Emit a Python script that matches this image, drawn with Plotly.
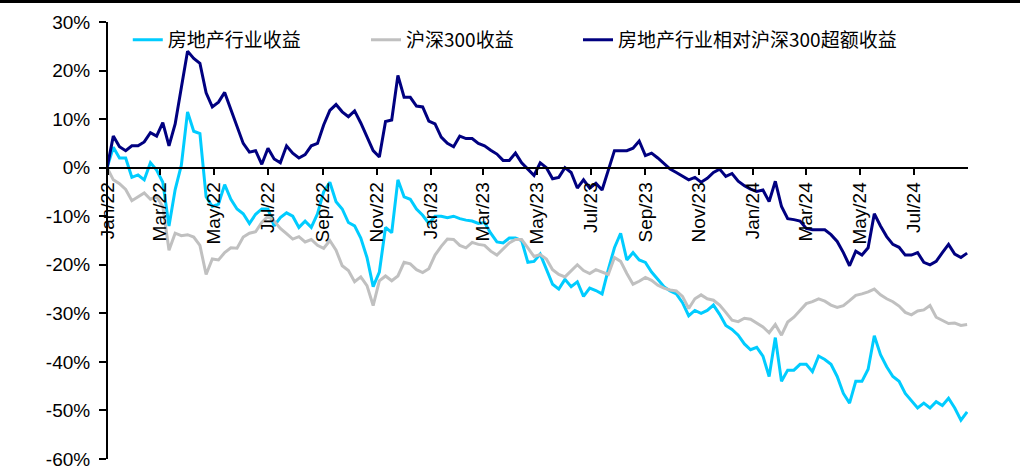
import pandas as pd
import plotly.graph_objects as go

# weekly (Friday) observation dates, preceded by the base date
base_date = ["2021-12-31"]
weekly_dates = [d.strftime("%Y-%m-%d") for d in pd.date_range("2022-01-07", "2024-08-30", freq="7D")]
dates = base_date + weekly_dates

# 房地产行业收益 (%)
property_ret = [0,
    4.2, 2.0, 2.0, -2.0, -1.5, -2.5, 1.0, -0.5, -3.0, -12.0,
    -4.5, 0.5, 11.5, 7.5, 7.0, -6.0, -8.0, -7.5, -3.5, -6.5,
    -8.5, -9.5, -11.5, -9.6, -8.5, -8.5, -12.0, -10.3, -9.3, -10.0,
    -12.3, -11.0, -12.3, -9.5, -5.0, -3.0, -7.0, -8.5, -11.3, -12.0,
    -14.5, -18.5, -24.5, -21.5, -12.3, -13.4, -2.5, -6.0, -6.5, -8.5,
    -9.8, -11.5, -10.0, -10.0, -10.3, -10.0, -10.5, -10.8, -11.0, -11.5,
    -11.3, -13.5, -15.3, -15.5, -14.5, -14.5, -15.0, -19.5, -19.3, -17.8,
    -21.0, -24.0, -25.0, -23.0, -24.5, -23.5, -26.5, -24.8, -25.3, -26.0,
    -21.0, -16.5, -13.5, -19.0, -17.5, -19.0, -19.5, -21.5, -23.0, -24.5,
    -25.4, -26.0, -27.8, -30.5, -29.4, -30.0, -29.4, -28.3, -30.2, -32.5,
    -33.3, -34.5, -36.3, -37.5, -37.0, -38.8, -43.0, -35.0, -44.0, -41.7,
    -41.7, -40.5, -40.5, -42.0, -38.8, -39.5, -40.5, -43.0, -46.5, -48.5,
    -44.0, -44.0, -41.5, -34.6, -38.5, -41.0, -43.0, -44.0, -46.5, -48.0,
    -49.5, -48.5, -49.5, -48.2, -49.0, -47.5, -49.5, -52.0, -50.3]

# 沪深300收益 (%)
hs300_ret = [0,
    -2.5, -3.3, -4.5, -6.8, -6.0, -5.2, -6.5, -6.0, -8.0, -17.0,
    -13.5, -14.0, -13.8, -14.3, -16.0, -22.0, -18.8, -19.0, -17.5, -16.5,
    -16.6, -14.3, -13.5, -13.2, -11.3, -10.0, -11.0, -12.5, -13.6, -14.7,
    -14.2, -15.3, -14.8, -16.0, -16.6, -15.0, -17.0, -20.2, -21.2, -23.5,
    -22.5, -24.3, -28.4, -23.3, -22.3, -23.3, -22.3, -19.5, -19.8, -21.0,
    -21.6, -20.8, -18.0, -16.2, -14.7, -14.8, -16.0, -16.5, -15.4, -15.8,
    -16.0, -17.2, -18.0, -16.8, -15.5, -14.8, -14.8, -16.5, -18.3, -17.9,
    -18.8, -21.0, -22.0, -22.5, -21.3, -20.0, -21.2, -21.8, -21.0, -21.5,
    -22.0, -18.5, -19.3, -21.8, -24.0, -23.4, -22.6, -23.2, -24.2, -24.8,
    -25.2, -25.4, -26.5, -29.0, -27.0, -26.2, -27.0, -27.3, -28.3, -29.8,
    -31.4, -31.7, -31.0, -31.2, -32.0, -32.8, -34.0, -32.3, -34.5, -31.8,
    -30.8, -29.5, -28.0, -27.6, -27.0, -27.5, -28.3, -28.8, -28.4, -27.4,
    -26.3, -26.0, -25.6, -25.0, -26.2, -27.0, -27.6, -28.5, -29.8, -30.3,
    -29.5, -29.3, -28.4, -30.8, -31.5, -32.1, -32.0, -32.5, -32.3]

# 房地产行业相对沪深300超额收益 (%)
excess_ret = [0,
    6.5, 4.3, 3.5, 4.5, 4.5, 5.3, 7.2, 6.5, 9.3, 4.5,
    9.0, 16.5, 24.0, 22.5, 21.5, 15.4, 12.5, 13.5, 15.5, 12.0,
    8.5, 5.0, 3.2, 3.5, 0.7, 4.0, 1.8, 1.0, 4.5, 3.0,
    2.0, 2.7, 4.5, 5.0, 8.8, 11.8, 13.0, 11.5, 10.5, 11.7,
    9.2, 6.4, 3.5, 2.2, 9.5, 9.8, 19.0, 14.5, 14.5, 12.7,
    12.5, 9.6, 9.0, 6.3, 5.0, 4.3, 6.5, 6.0, 6.0, 5.0,
    4.5, 3.6, 2.8, 1.5, 1.5, 3.0, 1.0, -0.3, -1.6, 1.0,
    0.0, -2.3, -2.0, 0.0, -1.0, -4.2, -2.5, -4.2, -3.2, -4.6,
    -0.5, 3.5, 3.5, 3.5, 4.0, 5.5, 2.5, 3.0, 2.0, 0.8,
    -0.3, -1.0, -1.8, -2.5, -2.0, -3.0, -2.2, -1.0, -0.3, -1.8,
    -1.2, -2.8, -3.7, -4.4, -4.9, -4.6, -7.0, -2.8, -8.0, -10.5,
    -10.7, -11.0, -12.5, -12.8, -12.8, -12.8, -13.8, -15.2, -17.5, -20.2,
    -17.2, -18.0, -16.5, -9.5, -12.0, -14.2, -15.8, -16.4, -18.0, -18.0,
    -17.5, -19.5, -20.0, -19.3, -17.5, -15.8, -17.8, -18.5, -17.6]

series_names = ["房地产行业收益", "沪深300收益", "房地产行业相对沪深300超额收益"]
series_colors = ["#00CCFF", "#C0C0C0", "#000080"]

y_ticks = [30, 20, 10, 0, -10, -20, -30, -40, -50, -60]
y_tick_text = [f"{v}%" for v in y_ticks]

fig = go.Figure()
for name, vals, color, lg in zip(series_names, [property_ret, hs300_ret, excess_ret],
                                 series_colors, ["legend", "legend2", "legend3"]):
    fig.add_trace(go.Scatter(x=dates, y=vals, mode="lines", name=name,
                             line=dict(color=color, width=3), legend=lg))

tick_font = dict(family="Liberation Sans, Arial, sans-serif", size=19, color="black")
leg_font = dict(family="Noto Sans CJK SC, sans-serif", size=19, color="black")

fig.update_layout(
    width=1020, height=471,
    margin=dict(l=108, r=52, t=22, b=12, autoexpand=False),
    paper_bgcolor="white", plot_bgcolor="white",
    xaxis=dict(type="date", range=["2022-01-01", "2024-08-31"],
               tick0="2022-01-01", dtick="M2", tickformat="%b/%y", tickangle=-90,
               anchor="free", position=60 / 90, automargin=False,
               showline=True, linecolor="black", linewidth=2,
               ticks="outside", ticklen=6, tickwidth=2, tickcolor="black",
               showgrid=False, zeroline=False, tickfont=tick_font),
    yaxis=dict(range=[-60, 30], tickvals=y_ticks, ticktext=y_tick_text, automargin=False,
               showline=True, linecolor="black", linewidth=2,
               ticks="outside", ticklen=7, tickwidth=2, tickcolor="black",
               ticklabelstandoff=5,
               showgrid=False, zeroline=False, tickfont=tick_font),
    legend=dict(x=0.023, y=0.959, xanchor="left", yanchor="middle", orientation="h",
                font=leg_font, bgcolor="rgba(0,0,0,0)"),
    legend2=dict(x=0.300, y=0.959, xanchor="left", yanchor="middle", orientation="h",
                 font=leg_font, bgcolor="rgba(0,0,0,0)"),
    legend3=dict(x=0.5465, y=0.959, xanchor="left", yanchor="middle", orientation="h",
                 font=leg_font, bgcolor="rgba(0,0,0,0)"),
    shapes=[dict(type="line", xref="paper", yref="paper", x0=-0.2, x1=1.2,
                 y0=1.047, y1=1.047, line=dict(color="black", width=3))],
    showlegend=True,
)

fig.write_html("out.html")
